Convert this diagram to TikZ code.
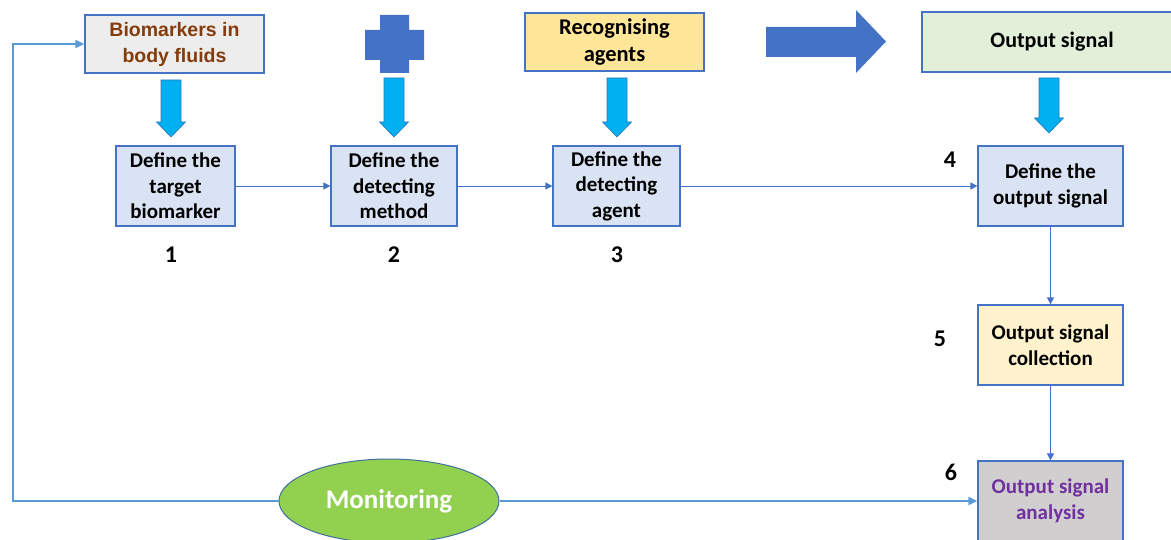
\documentclass[tikz,border=0pt]{standalone}
\usepackage{fontspec}
\setmainfont{Carlito}
\newfontfamily\arialf{Liberation Sans}
\usetikzlibrary{shapes.geometric,arrows.meta}
\definecolor{bordblue}{HTML}{4472C4}
\definecolor{lineblue}{HTML}{5B9BD5}
\definecolor{boxblue}{HTML}{DAE3F3}
\definecolor{boxgray}{HTML}{EDEDED}
\definecolor{boxyellow}{HTML}{FFE699}
\definecolor{boxcream}{HTML}{FFF2CC}
\definecolor{boxgreen}{HTML}{E2F0D9}
\definecolor{boxdgray}{HTML}{D0CECE}
\definecolor{brownt}{HTML}{843C0C}
\definecolor{purplet}{HTML}{7030A0}
\definecolor{cyanarr}{HTML}{00B0F0}
\definecolor{cyanbord}{HTML}{2E75B6}
\definecolor{greenell}{HTML}{92D050}
\definecolor{ellbord}{HTML}{41719C}
\definecolor{bigblue}{HTML}{4472C4}
\tikzset{
  stepbox/.style={draw=bordblue, line width=1.2pt, fill=boxblue, inner sep=0pt,
    minimum width=#1, minimum height=80pt, align=center, font=\fontsize{21}{25.5}\selectfont\bfseries},
  topbox/.style={draw=bordblue, line width=1.2pt, inner sep=0pt, minimum height=58pt, align=center},
  conn/.style={draw=bordblue, line width=0.9pt, -{Triangle[length=7pt,width=7pt]}},
  loopline/.style={draw=lineblue, line width=1.8pt},
  numlab/.style={font=\fontsize{24}{24}\selectfont\bfseries},
  downarr/.style={fill=cyanarr, draw=cyanbord, line width=0.6pt},
}
\begin{document}
\begin{tikzpicture}[x=1pt,y=-1pt]
\useasboundingbox (0,0) rectangle (1171,540);
\begin{scope}
\clip (0,0) rectangle (1171,540);
% top row
\node[topbox, fill=boxgray, minimum width=179pt, font=\arialf\fontsize{19.5}{26}\selectfont\bfseries, text=brownt] (bio) at (174.5,44) {Biomarkers in\\body fluids};
\node[topbox, fill=boxyellow, minimum width=179pt, font=\fontsize{22.5}{26.5}\selectfont\bfseries] (rec) at (614.5,42) {Recognising\\agents};
\node[topbox, fill=boxgreen, minimum width=260pt, minimum height=60pt, font=\fontsize{22}{26}\selectfont\bfseries] (out) at (1052,42) {Output signal};
% plus shape
\fill[bigblue] (380,15) -- (409,15) -- (409,30) -- (424,30) -- (424,60) -- (409,60) -- (409,73) -- (380,73) -- (380,60) -- (365,60) -- (365,30) -- (380,30) -- cycle;
% big right arrow
\fill[bigblue] (766,27) -- (856,27) -- (856,10) -- (886,41.5) -- (856,73) -- (856,57) -- (766,57) -- cycle;
% step boxes
\node[stepbox=119pt] (s1) at (175.5,186) {Define the\\target\\biomarker};
\node[stepbox=126pt] (s2) at (394,186) {Define the\\detecting\\method};
\node[stepbox=127pt] (s3) at (616.5,186) {Define the\\detecting\\agent};
\node[stepbox=145pt] (s4) at (1050.5,186) {Define the\\output signal};
\node[stepbox=145pt, fill=boxcream] (s5) at (1050.5,345) {Output signal\\collection};
\node[stepbox=145pt, fill=boxdgray, text=purplet] (s6) at (1050.5,501) {Output signal\\analysis};
% down block arrows
\foreach \cx/\ya/\yb in {171/80/137, 394/78/137, 617/78/137, 1049/78/133}{
  \path[downarr] (\cx-10,\ya) -- (\cx+10,\ya) -- (\cx+10,\yb-15) -- (\cx+14.5,\yb-15) -- (\cx,\yb) -- (\cx-14.5,\yb-15) -- (\cx-10,\yb-15) -- cycle;
}
% numbers
\node[numlab] (n1) at (171,255) {1};
\node[numlab] (n2) at (394,255) {2};
\node[numlab] (n3) at (617,255) {3};
\node[numlab] (n4) at (950,160) {4};
\node[numlab] (n5) at (940,339) {5};
\node[numlab] (n6) at (951,472) {6};
% connectors
\draw[conn] (s1.east) -- (s2.west);
\draw[conn] (s2.east) -- (s3.west);
\draw[conn] (s3.east) -- (s4.west);
\draw[conn] (s4.south) -- (s5.north);
\draw[conn] (s5.south) -- (s6.north);
% monitoring ellipse
\node[ellipse, draw=ellbord, line width=1pt, fill=greenell, minimum width=220pt, minimum height=84pt, inner sep=0pt, text=white, font=\fontsize{27}{27}\selectfont\bfseries] (mon) at (389,501) {Monitoring};
\coordinate (lc) at (13,44);
\draw[loopline, -{Triangle[length=9pt,width=8pt]}] (mon.west) -| (lc) -- (bio.west);
\draw[loopline, -{Triangle[length=9pt,width=8pt]}] (mon.east) -- (s6.west);
\end{scope}
\end{tikzpicture}
\end{document}
